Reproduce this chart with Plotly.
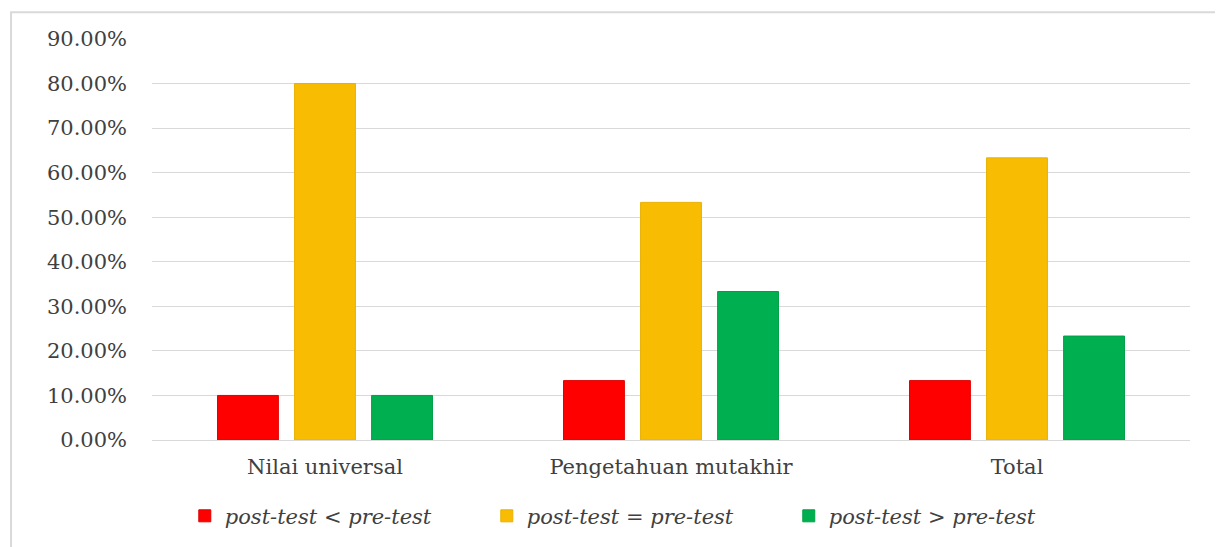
import plotly.graph_objects as go

categories = ["Nilai universal", "Pengetahuan mutakhir", "Total"]
series_names = ["post-test < pre-test", "post-test = pre-test", "post-test > pre-test"]
less_vals = [0.10, 0.1333, 0.1333]
equal_vals = [0.80, 0.5333, 0.6333]
greater_vals = [0.10, 0.3333, 0.2333]
y_ticks = [0, 0.1, 0.2, 0.3, 0.4, 0.5, 0.6, 0.7, 0.8, 0.9]

colors = ["#FF0000", "#F8BC02", "#00B050"]
edges = ["#E00000", "#EAB000", "#00A045"]

fig = go.Figure()
for name, vals, c, e in zip(series_names, [less_vals, equal_vals, greater_vals], colors, edges):
    fig.add_trace(go.Bar(
        x=categories, y=vals, name=name,
        marker=dict(color=c, line=dict(color=e, width=1)),
    ))

serif = "DejaVu Serif"
# page body has an 8px margin, so the figure is offset by (8, 8)
fig.update_layout(
    width=1215, height=539,
    margin=dict(l=144, r=33, t=31, b=106),
    paper_bgcolor="white", plot_bgcolor="white",
    barmode="group", bargap=0.332, bargroupgap=0.21,
    showlegend=True,
    legend=dict(
        orientation="h", x=0.468, xanchor="center", y=-0.187, yanchor="middle",
        font=dict(family=serif, size=21, color="#404040", style="italic"),
        entrywidth=257, entrywidthmode="pixels",
        traceorder="normal",
    ),
    xaxis=dict(
        showgrid=False, showline=False, ticks="",
        tickfont=dict(family=serif, size=21, color="#404040"),
        ticklabelstandoff=12,
    ),
    yaxis=dict(
        range=[0, 0.9], tickvals=y_ticks, tickformat=".2%",
        showgrid=True, gridcolor="#D9D9D9", gridwidth=1,
        zeroline=True, zerolinecolor="#D9D9D9", zerolinewidth=1,
        showline=False, ticks="",
        tickfont=dict(family=serif, size=21, color="#404040"),
        ticklabelstandoff=24,
    ),
    shapes=[dict(
        type="rect", xref="paper", yref="paper",
        x0=-0.1358, x1=1.2, y0=-0.5, y1=1.067,
        line=dict(color="#D9D9D9", width=2), fillcolor="rgba(0,0,0,0)",
        layer="below",
    )],
)

fig.write_html("out.html")
